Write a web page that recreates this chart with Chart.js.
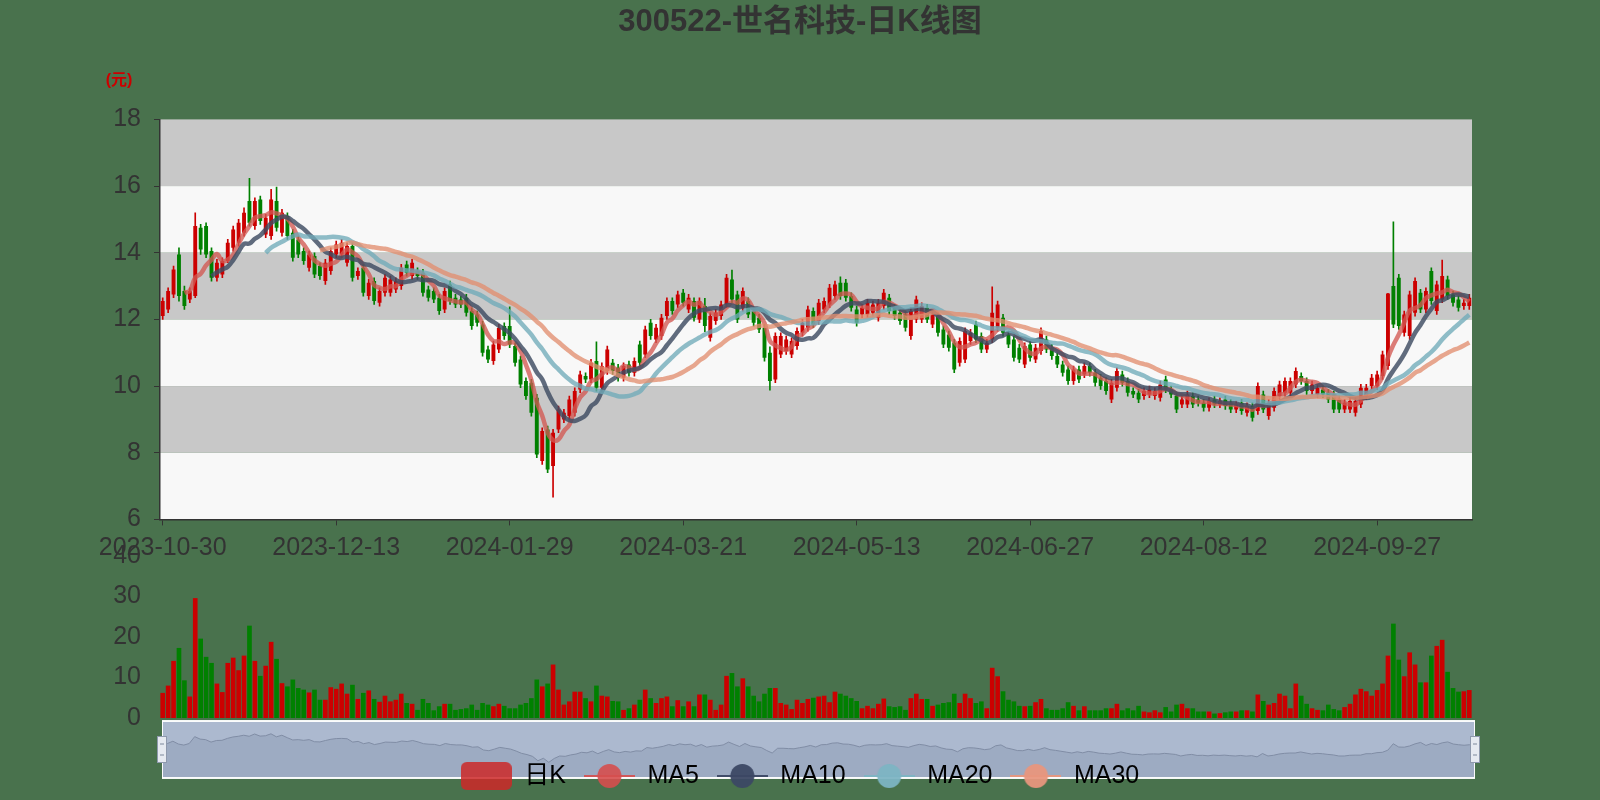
<!DOCTYPE html>
<html>
<head>
<meta charset="utf-8">
<script src="https://cdn.jsdelivr.net/npm/chart.js@4.4.1/dist/chart.umd.min.js"></script>
<style>
html,body{margin:0;padding:0;background:#49724d;width:1600px;height:800px;overflow:hidden;}
#wrap{position:relative;width:1600px;height:800px;}
canvas{position:absolute;left:0;top:0;}
#dz{z-index:1;}
#vol{z-index:2;}
#main{z-index:3;}
</style>
</head>
<body>
<div id="wrap">
<canvas id="dz" width="1600" height="800"></canvas>
<canvas id="vol" width="1600" height="800"></canvas>
<canvas id="main" width="1600" height="800"></canvas>
</div>
<script>
// ---------- data ----------
const tradingDays = {
  '2023-10': [30,31],
  '2023-11': [1,2,3,6,7,8,9,10,13,14,15,16,17,20,21,22,23,24,27,28,29,30],
  '2023-12': [1,4,5,6,7,8,11,12,13,14,15,18,19,20,21,22,25,26,27,28,29],
  '2024-01': [2,3,4,5,8,9,10,11,12,15,16,17,18,19,22,23,24,25,26,29,30,31],
  '2024-02': [1,2,5,6,7,8,19,20,21,22,23,26,27,28,29],
  '2024-03': [1,4,5,6,7,8,11,12,13,14,15,18,19,20,21,22,25,26,27,28,29],
  '2024-04': [1,2,3,8,9,10,11,12,15,16,17,18,19,22,23,24,25,26,29,30],
  '2024-05': [6,7,8,9,10,13,14,15,16,17,20,21,22,23,24,27,28,29,30,31],
  '2024-06': [3,4,5,6,7,11,12,13,14,17,18,19,20,21,24,25,26,27,28],
  '2024-07': [1,2,3,4,5,8,9,10,11,12,15,16,17,18,19,22,23,24,25,26,29,30,31],
  '2024-08': [1,2,5,6,7,8,9,12,13,14,15,16,19,20,21,22,23,26,27,28,29,30],
  '2024-09': [2,3,4,5,6,9,10,11,12,13,18,19,20,23,24,25,26,27,30],
  '2024-10': [8,9,10,11,14,15,16,17,18,21,22,23,24,25,28,29]
};
const dates = [];
Object.keys(tradingDays).forEach(m => tradingDays[m].forEach(d => dates.push(m + '-' + String(d).padStart(2,'0'))));

const open = [
12.10,12.30,12.75,13.95,12.85,12.60,12.70,14.75,14.80,14.05,
13.25,13.35,13.75,14.15,14.30,14.60,15.55,14.80,15.60,14.55,
14.50,15.55,14.60,15.10,14.60,14.40,14.05,13.55,13.90,13.60,
13.15,13.45,13.95,13.95,13.70,14.20,13.30,13.55,12.70,13.15,
12.50,12.80,12.80,12.90,13.00,13.65,13.30,13.45,13.40,12.90,
12.85,12.65,12.30,13.05,12.65,12.60,12.65,12.25,12.15,11.85,
11.10,10.75,11.10,11.80,11.80,11.20,10.80,10.15,10.10,9.65,
7.75,8.70,7.60,8.70,9.00,9.10,9.20,9.90,10.30,10.20,
10.75,9.95,10.45,10.70,10.55,10.25,10.65,10.40,11.25,10.95,
11.90,11.40,11.50,12.10,12.55,12.45,12.80,12.30,12.55,12.00,
12.40,11.45,11.95,12.10,12.45,13.20,12.75,12.35,12.55,12.25,
12.05,11.75,11.00,10.20,10.95,11.05,10.95,11.20,11.60,11.75,
12.25,11.95,12.30,12.45,12.70,13.10,13.10,12.70,12.30,12.15,
12.15,12.20,12.05,12.40,12.65,12.35,12.20,12.15,11.50,12.00,
12.00,12.35,11.85,12.10,11.70,11.55,11.30,10.70,10.80,11.35,
11.85,11.50,11.10,11.40,11.75,12.05,11.55,11.40,11.15,10.65,
11.25,10.80,11.05,11.40,11.15,10.90,10.65,10.50,10.15,10.50,
10.35,10.60,10.40,10.25,10.15,9.60,9.95,10.35,10.15,9.85,
9.80,9.70,9.75,9.70,9.65,10.20,9.90,9.70,9.45,9.45,
9.70,9.60,9.50,9.35,9.60,9.45,9.60,9.50,9.30,9.50,
9.20,9.40,9.25,9.75,9.10,9.35,9.70,9.80,9.80,10.05,
10.30,10.15,9.85,9.75,9.90,9.80,9.75,9.60,9.30,9.30,
9.20,9.45,9.70,10.00,10.00,10.30,10.60,13.00,13.25,11.60,
11.50,12.20,12.80,12.30,13.45,12.25,12.60,13.20,12.75,12.60,
12.40,12.40];

const close = [
12.55,12.85,13.50,12.70,12.40,12.85,14.80,14.10,13.95,13.25,
13.70,13.75,14.30,14.70,14.90,15.20,14.90,15.55,14.95,15.05,
15.60,14.75,15.20,14.50,13.85,13.95,13.75,13.95,13.35,13.30,
13.70,14.05,14.25,14.30,14.20,13.25,13.45,12.80,13.10,12.55,
12.85,13.25,13.20,13.15,13.55,13.40,13.70,13.30,12.80,12.65,
12.60,12.25,12.85,12.55,12.45,12.45,12.20,11.80,11.90,11.00,
10.80,11.25,11.75,11.50,11.25,10.70,10.05,9.70,9.20,7.95,
8.65,7.50,8.60,9.30,9.20,9.60,9.85,10.35,10.20,10.70,
9.95,10.60,11.10,10.45,10.25,10.60,10.40,10.75,10.70,11.70,
11.50,11.75,12.05,12.55,12.25,12.75,12.50,12.65,12.05,12.55,
11.80,12.10,12.20,12.45,13.25,12.60,12.00,12.85,12.15,11.90,
11.70,10.85,10.15,11.50,11.50,11.40,11.35,11.65,11.90,12.30,
11.85,12.50,12.55,12.95,13.05,12.70,12.65,12.35,11.90,12.35,
12.50,12.45,12.50,12.80,12.25,12.10,11.95,11.75,12.25,12.60,
12.40,12.00,12.15,11.60,11.25,11.15,10.50,11.35,11.65,11.60,
11.40,11.10,11.30,12.20,12.45,11.60,11.25,10.85,10.80,11.20,
10.85,11.15,11.65,11.10,10.90,10.65,10.40,10.15,10.50,10.20,
10.60,10.40,10.10,10.00,9.85,10.10,10.45,10.10,9.80,9.75,
9.60,9.85,9.90,9.85,10.05,9.90,9.75,9.30,9.60,9.75,
9.45,9.50,9.35,9.55,9.45,9.55,9.40,9.30,9.45,9.25,
9.40,9.05,10.00,9.30,9.50,9.85,10.05,10.15,10.15,10.45,
10.15,9.85,10.05,9.95,9.75,9.60,9.30,9.30,9.50,9.55,
9.55,9.95,9.95,10.25,10.35,10.95,12.78,11.85,11.80,12.15,
12.75,13.15,12.30,12.85,12.55,13.05,13.30,12.70,12.50,12.35,
12.50,12.65];

const high = [
12.65,12.95,13.60,14.15,13.00,12.95,15.20,14.85,14.90,14.15,
13.80,13.85,14.40,14.80,15.00,15.35,16.23,15.65,15.70,15.15,
15.90,15.97,15.30,15.20,14.70,14.50,14.15,14.05,14.00,13.70,
13.80,14.15,14.35,14.40,14.30,14.30,13.55,13.65,13.20,13.25,
12.95,13.35,13.30,13.25,13.65,13.75,13.80,13.55,13.50,13.00,
12.95,12.75,12.95,13.15,12.75,12.70,12.75,12.35,12.25,11.95,
11.20,11.35,11.85,11.90,12.38,11.30,10.90,10.25,10.20,9.75,
8.75,8.80,8.70,9.40,9.30,9.70,9.95,10.45,10.40,10.80,
11.33,10.70,11.20,10.80,10.65,10.70,10.75,10.85,11.35,11.80,
12.00,11.85,12.15,12.65,12.65,12.85,12.90,12.75,12.65,12.65,
12.63,12.20,12.30,12.55,13.35,13.48,12.85,12.95,12.65,12.35,
12.15,11.85,11.18,11.60,11.60,11.50,11.45,11.75,12.00,12.40,
12.35,12.60,12.65,13.05,13.15,13.28,13.20,12.80,12.40,12.45,
12.60,12.55,12.60,12.90,12.75,12.45,12.30,12.25,12.35,12.70,
12.50,12.45,12.25,12.20,11.80,11.65,11.40,11.45,11.75,11.70,
11.95,11.60,11.40,12.98,12.55,12.15,11.65,11.50,11.25,11.30,
11.35,11.25,11.75,11.50,11.25,11.00,10.75,10.60,10.60,10.60,
10.70,10.70,10.50,10.35,10.25,10.20,10.55,10.45,10.25,9.95,
9.90,9.95,10.00,9.95,10.15,10.30,10.00,9.80,9.70,9.85,
9.80,9.70,9.60,9.65,9.70,9.65,9.70,9.60,9.55,9.60,
9.50,9.50,10.10,9.85,9.60,9.95,10.15,10.25,10.25,10.55,
10.40,10.25,10.15,10.05,10.00,9.90,9.85,9.70,9.60,9.65,
9.65,10.05,10.05,10.35,10.45,11.05,12.78,14.93,13.35,12.25,
12.85,13.25,12.90,12.95,13.55,13.15,13.78,13.30,12.85,12.70,
12.60,12.75];

const low = [
12.00,12.20,12.65,12.55,12.30,12.50,12.65,13.95,13.85,13.15,
13.15,13.25,13.70,14.05,14.20,14.50,14.80,14.70,14.85,14.45,
14.40,14.65,14.50,14.40,13.75,13.85,13.65,13.45,13.25,13.20,
13.05,13.35,13.85,13.85,13.60,13.15,13.20,12.70,12.60,12.45,
12.40,12.70,12.70,12.80,12.90,13.30,13.20,13.20,12.70,12.55,
12.50,12.15,12.20,12.45,12.35,12.35,12.10,11.70,11.80,10.90,
10.70,10.65,11.00,11.40,11.15,10.60,9.95,9.60,9.10,7.85,
7.65,7.40,6.67,8.60,8.90,9.00,9.10,9.80,10.10,10.10,
9.85,9.85,10.35,10.35,10.15,10.15,10.30,10.30,10.60,10.85,
11.40,11.30,11.40,12.00,12.15,12.35,12.40,12.20,11.95,11.90,
11.63,11.35,11.85,12.00,12.35,12.50,11.90,12.25,12.05,11.80,
11.60,10.75,9.88,10.10,10.85,10.95,10.85,11.10,11.50,11.65,
11.75,11.85,12.20,12.35,12.60,12.60,12.55,12.25,11.80,12.05,
12.05,12.10,11.95,12.30,12.15,12.00,11.85,11.65,11.40,11.90,
11.90,11.90,11.75,11.50,11.15,11.05,10.40,10.60,10.70,11.25,
11.30,11.00,11.00,11.30,11.65,11.50,11.15,10.75,10.70,10.55,
10.75,10.70,10.95,11.00,10.80,10.55,10.30,10.05,10.05,10.10,
10.25,10.30,10.00,9.90,9.75,9.50,9.85,10.00,9.70,9.65,
9.50,9.60,9.65,9.60,9.55,9.80,9.65,9.20,9.35,9.35,
9.35,9.40,9.25,9.25,9.35,9.35,9.30,9.20,9.20,9.15,
9.10,8.95,9.15,9.20,9.00,9.25,9.60,9.70,9.70,9.95,
10.05,9.75,9.75,9.65,9.65,9.50,9.20,9.20,9.20,9.20,
9.10,9.35,9.60,9.90,9.90,10.20,10.50,11.75,11.70,11.50,
11.40,12.10,12.20,12.20,12.45,12.15,12.50,12.60,12.40,12.25,
12.30,12.30];

const volume = [
6.2,8.0,14.1,17.3,9.3,5.3,29.6,19.6,15.1,13.6,
8.5,6.4,13.6,14.9,11.8,15.4,22.8,14.1,10.4,12.9,
18.8,14.6,8.6,7.8,9.5,7.4,7.0,6.3,7.0,4.5,
4.5,7.6,7.2,8.5,6.0,8.2,4.7,6.2,6.8,4.7,
4.0,5.5,4.1,4.5,6.0,3.7,3.5,2.0,4.7,3.7,
1.9,2.9,3.5,3.5,2.0,2.2,2.4,3.3,2.0,3.7,
3.3,2.9,3.5,3.0,2.4,2.4,3.3,3.7,4.9,9.5,
7.8,8.5,13.2,7.0,3.3,4.1,6.5,6.5,4.9,4.1,
8.0,5.5,5.3,4.2,4.1,2.0,2.4,3.3,4.5,7.0,
4.9,3.7,4.9,5.3,2.9,4.4,2.9,4.1,2.9,5.8,
5.8,4.5,2.0,3.3,10.4,11.1,7.8,9.8,7.8,5.5,
4.1,6.0,7.4,7.4,3.7,3.3,2.2,4.5,3.7,4.7,
5.0,5.3,5.5,3.9,6.5,6.0,5.5,4.9,4.2,2.4,
3.0,2.4,3.5,4.8,2.9,2.7,2.9,2.0,4.9,6.0,
4.7,4.7,3.0,3.3,3.7,3.9,6.0,3.7,6.0,4.9,
3.7,4.1,2.4,12.4,10.3,6.6,4.5,4.1,3.0,2.9,
3.0,3.9,4.7,2.4,2.0,2.0,2.4,3.9,3.0,1.9,
2.9,1.9,1.9,1.9,2.4,2.4,3.5,1.9,2.4,1.9,
3.0,1.6,1.4,1.9,1.4,2.7,1.6,3.3,3.5,2.4,
2.4,1.6,1.6,1.6,1.1,1.2,1.4,1.6,1.6,1.9,
1.9,1.6,5.8,4.2,3.3,3.7,6.0,5.5,2.4,8.5,
5.5,3.5,2.4,2.0,1.9,3.3,2.2,1.9,2.7,3.5,
5.8,7.2,6.6,5.5,6.9,8.5,15.4,23.3,14.4,10.3,
16.2,13.2,8.8,8.8,15.4,17.8,19.3,11.4,7.4,6.5,
6.6,6.9];

const maPeriods = [5, 10, 20, 30];
const priceTicks = [6, 8, 10, 12, 14, 16, 18];
const volumeTicks = [0, 10, 20, 30, 40];
const labelEvery = 32;

// ---------- styles ----------
const FONT = '"Liberation Sans", "Noto Sans CJK SC", sans-serif';
const UP = '#cc0000';
const DOWN = '#008000';
const MA_COLORS = ['rgba(210,88,82,0.78)', 'rgba(62,76,98,0.82)', 'rgba(112,170,184,0.78)', 'rgba(226,142,112,0.78)'];
const ICON_COLORS = ['rgba(214,78,78,0.9)', 'rgba(60,72,100,0.95)', 'rgba(125,180,195,0.95)', 'rgba(232,150,125,0.95)'];
Chart.defaults.font.family = FONT;

// ---------- derived ----------
const candleColor = close.map((c, i) => c >= open[i] ? UP : DOWN);
const bodies = open.map((o, i) => [Math.min(o, close[i]), Math.max(o, close[i])]);
const wicks = low.map((l, i) => [l, high[i]]);
function movingAverage(n) {
  return close.map((_, i) => {
    if (i < n - 1) return null;
    let s = 0;
    for (let k = i - n + 1; k <= i; k++) s += close[k];
    return +(s / n).toFixed(3);
  });
}
const maSeries = maPeriods.map(movingAverage);

// ---------- legend icons ----------
function rectIcon(color) {
  const c = document.createElement('canvas'); c.width = 51; c.height = 28;
  const g = c.getContext('2d'); g.fillStyle = color; g.beginPath();
  if (g.roundRect) g.roundRect(0, 0, 51, 28, 6); else g.rect(0, 0, 51, 28);
  g.fill(); return c;
}
function lineIcon(color) {
  const c = document.createElement('canvas'); c.width = 51; c.height = 26;
  const g = c.getContext('2d'); g.strokeStyle = color; g.lineWidth = 2;
  g.beginPath(); g.moveTo(0, 13); g.lineTo(51, 13); g.stroke();
  g.fillStyle = color; g.beginPath(); g.arc(25.5, 13, 12, 0, Math.PI * 2); g.fill();
  return c;
}
const legendItems = [{ text: '日K', pointStyle: rectIcon('rgba(205,40,40,0.85)'), fillStyle: UP, strokeStyle: UP, lineWidth: 0, hidden: false, datasetIndex: 0 }]
  .concat(maPeriods.map((p, k) => ({ text: 'MA' + p, pointStyle: lineIcon(ICON_COLORS[k]), fillStyle: ICON_COLORS[k], strokeStyle: ICON_COLORS[k], lineWidth: 0, hidden: false, datasetIndex: 2 + k })));

// ---------- plugins ----------
const bandsPlugin = {
  id: 'bands',
  beforeDraw(chart) {
    const { ctx, chartArea: a, scales: { y } } = chart;
    ctx.save();
    for (let k = priceTicks.length - 1; k > 0; k--) {
      const top = y.getPixelForValue(priceTicks[k]);
      const bot = y.getPixelForValue(priceTicks[k - 1]);
      ctx.fillStyle = ((priceTicks.length - 1 - k) % 2 === 0) ? '#c8c8c8' : '#f8f8f8';
      ctx.fillRect(a.left, top, a.right - a.left, bot - top);
    }
    ctx.restore();
  },
  afterDraw(chart) {
    const { ctx, chartArea: a } = chart;
    ctx.save();
    ctx.fillStyle = '#cc0000';
    ctx.font = 'bold 16px ' + FONT;
    ctx.textAlign = 'center';
    ctx.textBaseline = 'middle';
    ctx.fillText('(元)', a.left - 41, a.top - 39);
    ctx.restore();
  }
};

const sliderPlugin = {
  id: 'slider',
  beforeDraw(chart) {
    const { ctx, chartArea: a } = chart;
    ctx.save();
    ctx.fillStyle = 'rgb(172,185,207)';
    ctx.fillRect(a.left, a.top, a.right - a.left, a.bottom - a.top);
    ctx.restore();
  },
  afterDraw(chart) {
    const { ctx, chartArea: a } = chart;
    ctx.save();
    ctx.strokeStyle = 'rgba(255,255,255,0.95)';
    ctx.lineWidth = 2;
    ctx.beginPath();
    ctx.moveTo(a.left, a.top); ctx.lineTo(a.right, a.top);
    ctx.moveTo(a.left, a.bottom); ctx.lineTo(a.right, a.bottom);
    ctx.stroke();
    ctx.lineWidth = 1;
    ctx.beginPath();
    ctx.moveTo(a.left + 0.5, a.top); ctx.lineTo(a.left + 0.5, a.bottom);
    ctx.moveTo(a.right - 0.5, a.top); ctx.lineTo(a.right - 0.5, a.bottom);
    ctx.stroke();
    const mid = (a.top + a.bottom) / 2;
    [a.left, a.right].forEach(x => {
      ctx.fillStyle = '#e6eaf1';
      ctx.strokeStyle = '#8e99ad';
      ctx.lineWidth = 1;
      ctx.fillRect(x - 4.5, mid - 13, 9, 26);
      ctx.strokeRect(x - 4.5, mid - 13, 9, 26);
      ctx.fillStyle = '#7d889c';
      ctx.fillRect(x - 2, mid - 6, 4, 1);
      ctx.fillRect(x - 2, mid + 5, 4, 1);
    });
    ctx.restore();
  }
};

// ---------- main price chart ----------
new Chart(document.getElementById('main'), {
  type: 'bar',
  data: {
    labels: dates,
    datasets: [
      { type: 'bar', label: '日K', data: bodies, backgroundColor: candleColor, borderWidth: 0, barPercentage: 0.72, categoryPercentage: 1, grouped: false, order: 2 },
      { type: 'bar', label: 'wick', data: wicks, backgroundColor: candleColor, borderWidth: 0, barThickness: 1, grouped: false, order: 3 }
    ].concat(maPeriods.map((p, k) => ({
      type: 'line', label: 'MA' + p, data: maSeries[k], borderColor: MA_COLORS[k], backgroundColor: MA_COLORS[k],
      borderWidth: 4.5, pointRadius: 0, tension: 0.4, fill: false, order: 1 - k * 0.01
    })))
  },
  options: {
    responsive: false,
    animation: false,
    devicePixelRatio: 1,
    layout: { padding: { left: 0, right: 0, top: 0, bottom: 1.5 } },
    plugins: {
      title: { display: true, text: '300522-世名科技-日K线图', color: '#333', font: { size: 31, weight: 'bold', family: FONT, lineHeight: 1.2 }, padding: { top: 4, bottom: 78.2 } },
      legend: {
        position: 'bottom',
        labels: { usePointStyle: true, pointStyleWidth: 51, boxHeight: 25, padding: 18, color: '#4f5868', font: { size: 25, family: FONT }, generateLabels: () => legendItems }
      },
      tooltip: { enabled: false }
    },
    scales: {
      x: {
        type: 'category', offset: true,
        grid: { display: true, drawOnChartArea: false, tickLength: 6, color: '#333', offset: false },
        border: { display: true, color: '#333', width: 1.5 },
        ticks: { autoSkip: false, maxRotation: 0, minRotation: 0, padding: 8, color: '#333', font: { size: 25, family: FONT },
          callback: (v, i) => (i % labelEvery === 0 ? dates[i] : null) },
        afterFit: s => { s.height = 226.1; }
      },
      y: {
        min: priceTicks[0], max: priceTicks[priceTicks.length - 1],
        afterBuildTicks: s => { s.ticks = priceTicks.map(v => ({ value: v })); },
        ticks: { padding: 13, color: '#333', font: { size: 25, family: FONT } },
        grid: { display: true, drawOnChartArea: false, tickLength: 6, color: '#333' },
        border: { display: true, color: '#333', width: 1.5 },
        afterFit: s => { s.width = 160; }
      },
      yRightSpace: {
        position: 'right', display: true,
        ticks: { display: false },
        grid: { display: false, drawTicks: false },
        border: { display: false },
        afterFit: s => { s.width = 128; }
      }
    }
  },
  plugins: [bandsPlugin]
});

// ---------- volume chart ----------
new Chart(document.getElementById('vol'), {
  type: 'bar',
  data: { labels: dates, datasets: [{ label: '成交量', data: volume, backgroundColor: candleColor, borderWidth: 0, barPercentage: 0.86, categoryPercentage: 1 }] },
  options: {
    responsive: false, animation: false, devicePixelRatio: 1,
    layout: { padding: { left: 0, right: 128, top: 556, bottom: 82 } },
    plugins: { legend: { display: false }, tooltip: { enabled: false } },
    scales: {
      x: { display: false, offset: true },
      y: {
        min: volumeTicks[0], max: volumeTicks[volumeTicks.length - 1],
        afterBuildTicks: s => { s.ticks = volumeTicks.map(v => ({ value: v })); },
        ticks: { padding: 19, color: '#333', font: { size: 25, family: FONT } },
        grid: { display: false, drawTicks: false },
        border: { display: false },
        afterFit: s => { s.width = 160; }
      }
    }
  }
});

// ---------- data zoom slider ----------
const cMin = Math.min(...close), cMax = Math.max(...close), cRange = cMax - cMin;
new Chart(document.getElementById('dz'), {
  type: 'line',
  data: { labels: dates, datasets: [{ data: close, borderColor: 'rgba(128,141,165,1)', borderWidth: 1, backgroundColor: 'rgba(120,136,162,0.28)', fill: 'start', pointRadius: 0, tension: 0 }] },
  options: {
    responsive: false, animation: false, devicePixelRatio: 1,
    layout: { padding: { left: 162, right: 125, top: 721, bottom: 22 } },
    plugins: { legend: { display: false }, tooltip: { enabled: false } },
    scales: {
      x: { display: false, offset: false },
      y: { display: false, min: cMin - 0.55 * cRange, max: cMax + 0.45 * cRange }
    }
  },
  plugins: [sliderPlugin]
});
</script>
</body>
</html>
